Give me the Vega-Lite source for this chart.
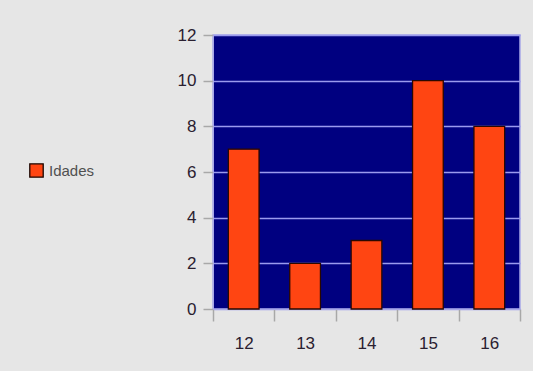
{
  "$schema": "https://vega.github.io/schema/vega-lite/v6.json",
  "autosize": "none",
  "width": 307,
  "height": 274,
  "padding": {"left": 213, "top": 35, "right": 13, "bottom": 62},
  "background": "#e6e6e6",
  "data": {"values": [
    {"idade": "12", "count": 7},
    {"idade": "13", "count": 2},
    {"idade": "14", "count": 3},
    {"idade": "15", "count": 10},
    {"idade": "16", "count": 8}
  ]},
  "mark": {"type": "bar", "stroke": "#2a0800", "strokeWidth": 1.3, "width": {"band": 0.5}},
  "encoding": {
    "x": {
      "field": "idade", "type": "ordinal", "sort": null,
      "scale": {"paddingInner": 0, "paddingOuter": 0},
      "axis": {
        "title": null, "labelAngle": 0, "tickBand": "extent",
        "tickSize": 12, "tickColor": "#a8a8a8", "tickWidth": 1.5,
        "domainColor": "#a8a8e8", "labelPadding": 14,
        "labelFont": "Liberation Sans", "labelFontSize": 17, "labelColor": "#2a2030"
      }
    },
    "y": {
      "field": "count", "type": "quantitative",
      "scale": {"domain": [0, 12], "nice": false},
      "axis": {
        "title": null, "values": [0, 2, 4, 6, 8, 10, 12],
        "tickSize": 10, "tickColor": "#a8a8a8", "tickWidth": 1.5,
        "domainColor": "#a8a8e8", "labelPadding": 7,
        "gridColor": "#9a9aee", "gridWidth": 1.5, "grid": true,
        "labelFont": "Liberation Sans", "labelFontSize": 17, "labelColor": "#2a2030"
      }
    },
    "color": {
      "datum": "Idades", "type": "nominal",
      "scale": {"range": ["#ff4512"]},
      "legend": {
        "title": null, "orient": "none", "legendX": -184, "legendY": 128,
        "symbolType": "square", "symbolSize": 180, "symbolStrokeColor": "#1a0500",
        "symbolStrokeWidth": 1.3, "labelFont": "Liberation Sans",
        "labelFontSize": 15, "labelColor": "#505050", "labelOffset": 5, "padding": 0
      }
    }
  },
  "config": {"view": {"fill": "#000080", "stroke": "#a8a8e8", "strokeWidth": 1.5}}
}
